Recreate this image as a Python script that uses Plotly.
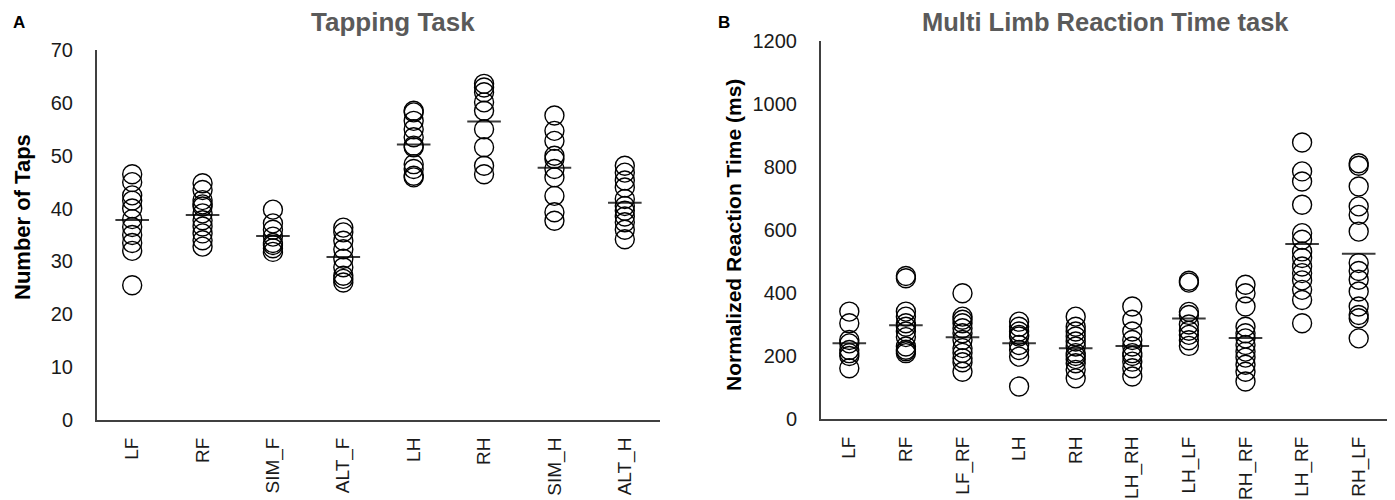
import numpy as np
import plotly.graph_objects as go

# ---- Panel A: Tapping Task (Number of Taps) ----
tap_categories = ["LF", "RF", "SIM_F", "ALT_F", "LH", "RH", "SIM_H", "ALT_H"]
tap_LF = [46.5, 45.0, 42.5, 41.5, 40.0, 38.0, 36.5, 35.0, 33.5, 32.0, 25.5]
tap_RF = [44.8, 43.5, 41.6, 40.8, 40.4, 39.1, 37.8, 36.6, 35.3, 34.0, 32.8]
tap_SIM_F = [39.8, 37.2, 36.0, 34.7, 33.5, 33.1, 32.5, 31.8]
tap_ALT_F = [36.4, 35.5, 33.9, 32.3, 30.5, 28.9, 27.3, 26.7, 26.0]
tap_LH = [58.5, 58.2, 56.6, 55.0, 53.5, 51.9, 51.6, 48.4, 47.5, 46.2, 45.9]
tap_RH = [63.6, 62.9, 62.0, 60.1, 58.5, 55.0, 51.6, 48.1, 46.5]
tap_SIM_H = [57.6, 54.7, 52.8, 50.0, 49.4, 47.5, 45.9, 42.4, 39.3, 37.7]
tap_ALT_H = [48.1, 46.8, 45.3, 44.0, 41.8, 40.5, 39.6, 38.5, 37.4, 36.0, 34.2]
tap_values = [tap_LF, tap_RF, tap_SIM_F, tap_ALT_F, tap_LH, tap_RH, tap_SIM_H, tap_ALT_H]

# ---- Panel B: Multi Limb Reaction Time task (ms) ----
rt_categories = ["LF", "RF", "LF_RF", "LH", "RH", "LH_RH", "LH_LF", "RH_RF", "LH_RF", "RH_LF"]
rt_LF = [341, 304, 251, 240, 219, 209, 200, 161]
rt_RF = [454, 447, 341, 325, 304, 293, 278, 260, 230, 220, 215, 209]
rt_LF_RF = [399, 325, 315, 304, 288, 272, 251, 225, 210, 193, 180, 150]
rt_LH = [309, 293, 278, 267, 262, 235, 219, 198, 103]
rt_RH = [325, 293, 278, 262, 246, 230, 209, 200, 190, 177, 156, 129]
rt_LH_RH = [357, 315, 278, 251, 230, 209, 200, 182, 161, 135]
rt_LH_LF = [439, 433, 340, 330, 300, 280, 267, 250, 232]
rt_RH_RF = [426, 399, 357, 293, 272, 256, 235, 214, 195, 172, 150, 119]
rt_LH_RF = [878, 786, 754, 680, 590, 569, 532, 511, 484, 463, 440, 410, 378, 304]
rt_RH_LF = [812, 804, 738, 675, 648, 595, 495, 470, 442, 405, 357, 330, 320, 256]
rt_values = [rt_LF, rt_RF, rt_LF_RF, rt_LH, rt_RH, rt_LH_RH, rt_LH_LF, rt_RH_RF, rt_LH_RF, rt_RH_LF]

FONT = "Liberation Sans, Arial, sans-serif"

fig = go.Figure()


def add_panel(cats, vals, xa, ya):
    xs, ys = [], []
    for c, v in zip(cats, vals):
        xs += [c] * len(v)
        ys += list(v)
    means = [float(np.mean(v)) for v in vals]
    fig.add_trace(go.Scatter(
        x=cats, y=means, mode="markers", xaxis=xa, yaxis=ya, showlegend=False,
        marker=dict(symbol="line-ew", size=24, line=dict(color="#3a3a3a", width=2)),
        hoverinfo="skip"))
    fig.add_trace(go.Scatter(
        x=xs, y=ys, mode="markers", xaxis=xa, yaxis=ya, showlegend=False,
        marker=dict(symbol="circle", size=19, color="rgba(255,255,255,0)",
                    line=dict(color="black", width=1.4))))


add_panel(tap_categories, tap_values, "x", "y")
add_panel(rt_categories, rt_values, "x2", "y2")

xcommon = dict(type="category", showline=True, linecolor="#404040", linewidth=2,
               showgrid=False, zeroline=False, tickangle=-90, ticks="outside",
               ticklen=8, tickcolor="rgba(0,0,0,0)", automargin=False,
               tickfont=dict(family=FONT, size=19, color="#1a1a1a"))
ycommon = dict(showline=True, linecolor="#404040", linewidth=2, showgrid=False,
               zeroline=False, ticks="outside", ticklen=18, automargin=False,
               tickcolor="rgba(0,0,0,0)",
               tickfont=dict(family=FONT, size=20, color="#1a1a1a"))

fig.update_layout(
    width=1395, height=500,
    margin=dict(l=0, r=0, t=0, b=0, autoexpand=False),
    paper_bgcolor="white", plot_bgcolor="white",
    xaxis=dict(domain=[97 / 1395, 660 / 1395], range=[-0.5, 7.5],
               categoryorder="array", categoryarray=tap_categories, anchor="y", **xcommon),
    yaxis=dict(domain=[1 - 420 / 500, 1 - 50 / 500], range=[0, 70], dtick=10,
               anchor="x", **ycommon),
    xaxis2=dict(domain=[821 / 1395, 1387 / 1395], range=[-0.5, 9.5],
                categoryorder="array", categoryarray=rt_categories, anchor="y2", **xcommon),
    yaxis2=dict(domain=[1 - 419 / 500, 1 - 41 / 500], range=[0, 1200], dtick=200,
                anchor="x2", **ycommon),
)

annots = [
    dict(text="<b>Tapping Task</b>", x=393 / 1395, y=1 - 22 / 500, size=26, color="#5a5a5a"),
    dict(text="<b>Multi Limb Reaction Time task</b>", x=1105 / 1395, y=1 - 22 / 500, size=25.5, color="#5a5a5a"),
    dict(text="<b>A</b>", x=19 / 1395, y=1 - 22 / 500, size=17, color="black"),
    dict(text="<b>B</b>", x=724 / 1395, y=1 - 22 / 500, size=17, color="black"),
]
for a in annots:
    fig.add_annotation(text=a["text"], x=a["x"], y=a["y"], xref="paper", yref="paper",
                       showarrow=False, xanchor="center", yanchor="middle",
                       font=dict(family=FONT, size=a["size"], color=a["color"]))

fig.add_annotation(text="<b>Number of Taps</b>", x=23 / 1395, y=1 - 217 / 500,
                   xref="paper", yref="paper", showarrow=False, textangle=-90,
                   xanchor="center", yanchor="middle",
                   font=dict(family=FONT, size=22, color="black"))
fig.add_annotation(text="<b>Normalized Reaction Time (ms)</b>", x=733 / 1395, y=1 - 235 / 500,
                   xref="paper", yref="paper", showarrow=False, textangle=-90,
                   xanchor="center", yanchor="middle",
                   font=dict(family=FONT, size=21, color="black"))

fig.write_html("out.html",
               config={"displayModeBar": False},
               post_script="document.body.style.margin='0';document.body.style.overflow='hidden';")
